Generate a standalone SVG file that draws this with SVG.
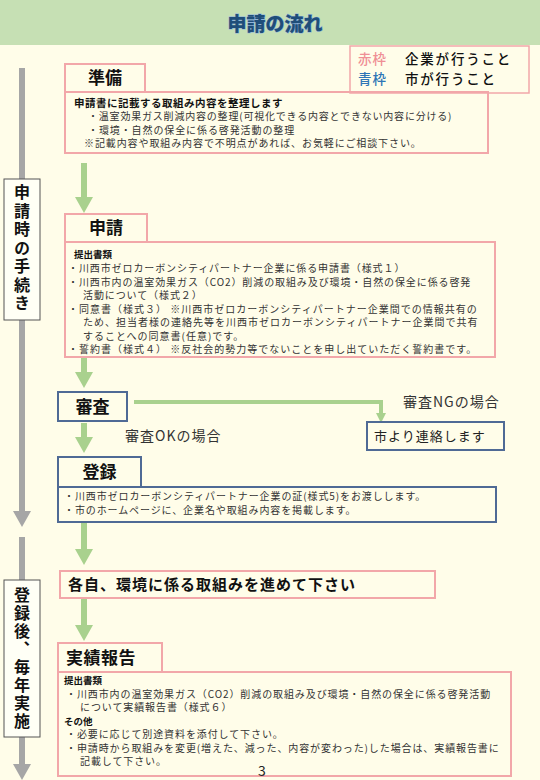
<svg xmlns="http://www.w3.org/2000/svg" width="540" height="780" viewBox="0 0 540 780">
<defs>
<style>
text{font-family:"Noto Sans CJK JP","Noto Sans",sans-serif;fill:#222}
.pink{fill:none;stroke:#f2a7a9;stroke-width:2}
.blue{fill:none;stroke:#4f6a95;stroke-width:2}
.lbl{fill:#fffff6;stroke:#555;stroke-width:1}
.hd{font-size:17px;font-weight:bold;text-anchor:middle;fill:#111}
.b{font-size:10px;font-weight:bold;fill:#111;letter-spacing:0.8px}
.t{font-size:10px;letter-spacing:0.9px;fill:#333}
.v{font-size:16px;font-weight:bold;fill:#111;writing-mode:vertical-rl}
.lg{font-size:13.5px;font-weight:500;letter-spacing:1.8px;fill:#111}
.garrow{stroke:#a9d18e;stroke-width:6;fill:none}
.gray{stroke:#a6a6a6;stroke-width:6;fill:none}
</style>
<marker id="ghead" markerUnits="userSpaceOnUse" markerWidth="16" markerHeight="18" refX="0" refY="9" orient="auto"><path d="M0,0 L16,9 L0,18 z" fill="#a9d18e"/></marker>
<marker id="grayhead" markerUnits="userSpaceOnUse" markerWidth="16" markerHeight="18" refX="0" refY="9" orient="auto"><path d="M0,0 L16,9 L0,18 z" fill="#a6a6a6"/></marker>
<marker id="smallhead" markerUnits="userSpaceOnUse" markerWidth="10" markerHeight="10" refX="0" refY="5" orient="auto"><path d="M0,0 L10,5 L0,10 z" fill="#a9d18e"/></marker>
</defs>
<rect x="0" y="0" width="540" height="780" fill="#fffde9"/>
<g id="header">
<rect x="0" y="0" width="540" height="45" fill="#c6e0b4"/>
<text x="275" y="31" text-anchor="middle" style="font-size:19px;font-weight:900;fill:#1f4e79;stroke:#8fb4da;stroke-width:1;paint-order:stroke">申請の流れ</text>
</g>
<g id="legend">
<rect x="350" y="46" width="179" height="47" fill="#fffde9" stroke="#f2a7a9" stroke-width="1.5"/>
<text x="358" y="64" class="lg" style="letter-spacing:1px;fill:#ef8f95">赤枠</text>
<text x="405" y="64" class="lg">企業が行うこと</text>
<text x="358" y="84" class="lg" style="letter-spacing:1px;fill:#2e75b6">青枠</text>
<text x="405" y="84" class="lg">市が行うこと</text>
</g>
<g id="connectors">
<line class="gray" x1="22" y1="68" x2="22" y2="511" marker-end="url(#grayhead)"/>
<line class="gray" x1="22" y1="537" x2="22" y2="764" marker-end="url(#grayhead)"/>
<line class="garrow" x1="84" y1="163" x2="84" y2="197" marker-end="url(#ghead)"/>
<line class="garrow" x1="84" y1="358" x2="84" y2="372" marker-end="url(#ghead)"/>
<line class="garrow" x1="84" y1="423" x2="84" y2="437" marker-end="url(#ghead)"/>
<line class="garrow" x1="84" y1="522" x2="84" y2="549" marker-end="url(#ghead)"/>
<line class="garrow" x1="84" y1="599" x2="84" y2="625" marker-end="url(#ghead)"/>
<polyline points="134,402 381,402 381,413" fill="none" stroke="#a9d18e" stroke-width="4" marker-end="url(#smallhead)"/>
</g>
<g id="label-shinsei">
<rect class="lbl" x="4" y="179" width="36" height="141"/>
<text class="v" x="22" y="184" style="letter-spacing:2.5px">申請時の手続き</text>
</g>
<g id="label-toroku">
<rect class="lbl" x="4" y="580" width="36" height="157"/>
<text class="v" x="22" y="587" style="letter-spacing:2px">登録後、毎年実施</text>
</g>
<g id="junbi">
<rect class="pink" x="65" y="64" width="80" height="28"/>
<text class="hd" x="105" y="84">準備</text>
<rect class="pink" x="65" y="92" width="423" height="61"/>
<text class="b" x="74" y="106.5" style="font-size:10.5px;letter-spacing:0.5px">申請書に記載する取組み内容を整理します</text>
<text class="t" x="88" y="120" style="letter-spacing:0.8px">・温室効果ガス削減内容の整理(可視化できる内容とできない内容に分ける)</text>
<text class="t" x="88" y="133.5">・環境・自然の保全に係る啓発活動の整理</text>
<text class="t" x="84" y="147">※記載内容や取組み内容で不明点があれば、お気軽にご相談下さい。</text>
</g>
<g id="shinsei">
<rect class="pink" x="65" y="214" width="82" height="28"/>
<text class="hd" x="106" y="234">申請</text>
<rect class="pink" x="65" y="242" width="430" height="115"/>
<text class="b" x="74" y="258" style="font-size:9.5px;letter-spacing:0px">提出書類</text>
<text class="t" x="68" y="272">・川西市ゼロカーボンシティパートナー企業に係る申請書（様式１）</text>
<text class="t" x="68" y="285.5">・川西市内の温室効果ガス（CO2）削減の取組み及び環境・自然の保全に係る啓発</text>
<text class="t" x="83" y="299">活動について（様式２）</text>
<text class="t" x="68" y="312.5" style="letter-spacing:1px">・同意書（様式３） ※川西市ゼロカーボンシティパートナー企業間での情報共有の</text>
<text class="t" x="83" y="326" style="letter-spacing:1px">ため、担当者様の連絡先等を川西市ゼロカーボンシティパートナー企業間で共有</text>
<text class="t" x="83" y="339.5" style="letter-spacing:1px">することへの同意書(任意)です。</text>
<text class="t" x="68" y="353" style="letter-spacing:1px">・誓約書（様式４） ※反社会的勢力等でないことを申し出ていただく誓約書です。</text>
</g>
<g id="shinsa">
<rect class="blue" x="58" y="392" width="69" height="29"/>
<text class="hd" x="92.5" y="413">審査</text>
<text x="125" y="441" style="font-size:14px;letter-spacing:1px;fill:#333">審査OKの場合</text>
<text x="403" y="407" style="font-size:14px;letter-spacing:1px;fill:#333">審査NGの場合</text>
</g>
<g id="renraku">
<rect class="blue" x="367" y="422" width="137" height="28"/>
<text x="374" y="441" style="font-size:13px;letter-spacing:1px;fill:#222">市より連絡します</text>
</g>
<g id="toroku">
<rect class="blue" x="58" y="457" width="83" height="30"/>
<text class="hd" x="99.5" y="478">登録</text>
<rect class="blue" x="58" y="487" width="438" height="35"/>
<text class="t" x="64" y="500">・川西市ゼロカーボンシティパートナー企業の証(様式5)をお渡しします。</text>
<text class="t" x="64" y="514">・市のホームページに、企業名や取組み内容を掲載します。</text>
</g>
<g id="torikumi">
<rect class="pink" x="60" y="571" width="375" height="27"/>
<text x="68" y="590" style="font-size:15px;font-weight:bold;letter-spacing:1px;fill:#111">各自、環境に係る取組みを進めて下さい</text>
</g>
<g id="jisseki">
<rect class="pink" x="58" y="643" width="104" height="29"/>
<text x="66" y="664" style="font-size:17px;font-weight:bold;letter-spacing:0.5px;fill:#111">実績報告</text>
<rect class="pink" x="58" y="672" width="453" height="104"/>
<text class="b" x="64" y="684" style="font-size:9.5px;letter-spacing:0px">提出書類</text>
<text class="t" x="66" y="697.5">・川西市内の温室効果ガス（CO2）削減の取組み及び環境・自然の保全に係る啓発活動</text>
<text class="t" x="80" y="711">について実績報告書（様式６）</text>
<text class="b" x="64" y="724.5" style="font-size:9.5px;letter-spacing:0px">その他</text>
<text class="t" x="66" y="738">・必要に応じて別途資料を添付して下さい。</text>
<text class="t" x="66" y="751.5">・申請時から取組みを変更(増えた、減った、内容が変わった)した場合は、実績報告書に</text>
<text class="t" x="80" y="765">記載して下さい。</text>
</g>
<text x="262" y="776" text-anchor="middle" style="font-size:14px;fill:#222">3</text>
</svg>
